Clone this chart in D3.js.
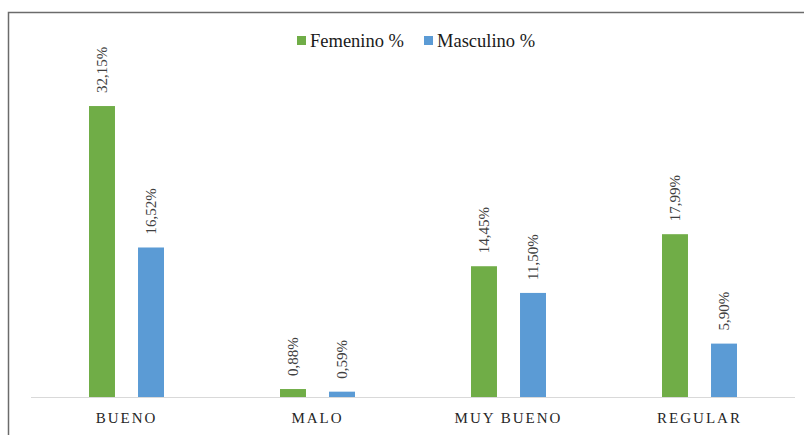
<!DOCTYPE html>
<html>
<head>
<meta charset="utf-8">
<script src="https://cdn.jsdelivr.net/npm/d3@7"></script>
<style>
  body { margin: 0; background: #fff; }
  svg { display: block; }
</style>
</head>
<body>
<div id="chart"></div>
<script>
// chart data
const categories = ['BUENO', 'MALO', 'MUY BUENO', 'REGULAR'];
const seriesNames = ['Femenino %', 'Masculino %'];
const femenino = [32.15, 0.88, 14.45, 17.99];
const masculino = [16.52, 0.59, 11.50, 5.90];
const labelsFem = ['32,15%', '0,88%', '14,45%', '17,99%'];
const labelsMas = ['16,52%', '0,59%', '11,50%', '5,90%'];
const colors = ['#70AD47', '#5B9BD5'];

const width = 804, height = 435;
const baseY = 397;

const svg = d3.select('#chart')
    .append('svg')
    .attr('width', width)
    .attr('height', height);

svg.append('rect')
    .attr('width', width)
    .attr('height', height)
    .attr('fill', '#fff');

// outer frame (only top and left visible)
svg.append('path')
    .attr('d', `M8.5,${height} V12.5 H${width}`)
    .attr('fill', 'none')
    .attr('stroke', '#6b6b6b')
    .attr('stroke-width', 1.5);

const x0 = d3.scaleBand()
    .domain(categories)
    .range([31, 795]);

const x1 = d3.scaleBand()
    .domain(seriesNames)
    .range([0, 75])
    .paddingInner(0.47);

const y = d3.scaleLinear()
    .domain([0, 35])
    .range([baseY, baseY - 35 * 9.05]);

const rows = categories.map((c, i) => ({
    cat: c,
    values: [
        { name: seriesNames[0], value: femenino[i], label: labelsFem[i] },
        { name: seriesNames[1], value: masculino[i], label: labelsMas[i] }
    ]
}));

const groups = svg.selectAll('.grp')
    .data(rows)
    .enter()
    .append('g')
    .attr('class', 'grp')
    .attr('transform', d => `translate(${x0(d.cat) + x0.bandwidth() / 2 - 37.5},0)`);

groups.selectAll('rect')
    .data(d => d.values)
    .enter()
    .append('rect')
    .attr('x', d => x1(d.name))
    .attr('y', d => y(d.value))
    .attr('width', x1.bandwidth())
    .attr('height', d => baseY - y(d.value))
    .attr('fill', (d, i) => colors[i]);

// rotated data labels
groups.selectAll('text')
    .data(d => d.values)
    .enter()
    .append('text')
    .attr('transform', d => `translate(${x1(d.name) + x1.bandwidth() / 2 + 5},${y(d.value) - 13}) rotate(-90)`)
    .attr('text-anchor', 'start')
    .style('font-family', '"Liberation Serif", "Times New Roman", serif')
    .style('font-size', '15px')
    .style('fill', '#404040')
    .text(d => d.label);

// baseline
svg.append('line')
    .attr('x1', 31).attr('x2', 795)
    .attr('y1', baseY + 0.5).attr('y2', baseY + 0.5)
    .attr('stroke', '#d9d9d9')
    .attr('stroke-width', 1);

// category labels
svg.selectAll('.cat')
    .data(categories)
    .enter()
    .append('text')
    .attr('class', 'cat')
    .attr('x', d => x0(d) + x0.bandwidth() / 2)
    .attr('y', 423)
    .attr('text-anchor', 'middle')
    .style('font-family', '"Liberation Serif", "Times New Roman", serif')
    .style('font-size', '15px')
    .style('letter-spacing', '2px')
    .style('fill', '#262626')
    .text(d => d);

// legend
const legendX = [297, 424];
const legend = svg.selectAll('.leg')
    .data(seriesNames)
    .enter()
    .append('g')
    .attr('class', 'leg')
    .attr('transform', (d, i) => `translate(${legendX[i]},36)`);

legend.append('rect')
    .attr('width', 9)
    .attr('height', 9)
    .attr('fill', (d, i) => colors[i]);

legend.append('text')
    .attr('x', 13)
    .attr('y', 11)
    .style('font-family', '"Liberation Serif", "Times New Roman", serif')
    .style('font-size', '18.5px')
    .style('fill', '#1a1a1a')
    .text(d => d);
</script>
</body>
</html>
